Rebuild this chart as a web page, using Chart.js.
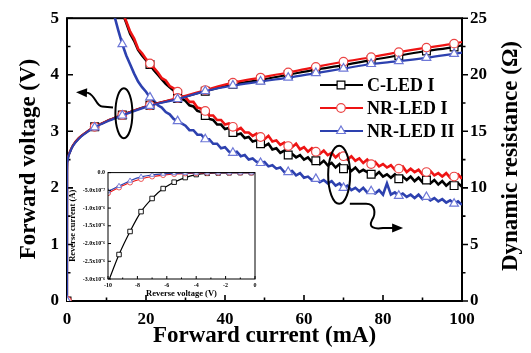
<!DOCTYPE html>
<html>
<head>
<meta charset="utf-8">
<script src="https://cdn.jsdelivr.net/npm/chart.js@4.4.0/dist/chart.umd.min.js"></script>
<style>
  html, body { margin: 0; padding: 0; background: #fff; }
  #wrap { position: relative; width: 531px; height: 353px; }
  #main { position: absolute; left: 0; top: 0; }
  #inset { position: absolute; left: 62px; top: 166px; }
</style>
</head>
<body>
<div id="wrap">
  <canvas id="main" width="531" height="353"></canvas>
  <canvas id="inset" width="200" height="134"></canvas>
</div>
<script>
// ---- forward voltage (left axis, V) vs forward current (mA)
const vCurrent = [0, 0.02, 0.1, 0.3, 0.7, 1.5, 3, 5, 7, 10, 14, 17.5, 21, 28, 35, 42, 49, 56, 63, 70, 77, 84, 91, 98, 100];
const vRed   = [0, 2.3, 2.47, 2.55, 2.63, 2.75, 2.88, 2.99, 3.08, 3.18, 3.29, 3.38, 3.46, 3.59, 3.73, 3.86, 3.95, 4.04, 4.14, 4.23, 4.31, 4.40, 4.48, 4.55, 4.58];
const vBlack = [0, 2.3, 2.47, 2.55, 2.63, 2.75, 2.88, 2.99, 3.08, 3.18, 3.29, 3.38, 3.46, 3.58, 3.71, 3.83, 3.91, 4.00, 4.09, 4.17, 4.26, 4.34, 4.42, 4.49, 4.52];
const vBlue  = [0, 2.3, 2.46, 2.54, 2.62, 2.74, 2.87, 2.98, 3.07, 3.17, 3.28, 3.37, 3.45, 3.57, 3.71, 3.81, 3.88, 3.95, 4.03, 4.11, 4.19, 4.24, 4.30, 4.37, 4.39];

// ---- dynamic resistance (right axis, ohm), sampled every 1 mA from the start current
const rRedStart = 13;
const rRed = [26.8,25.6,24.7,23.8,23.2,22.3,21.9,21.4,21.0,20.6,
  20.2,19.7,19.5,19.0,18.8,18.5,18.1,18.0,17.6,17.6,
  17.1,17.0,16.8,16.4,16.4,16.0,16.0,15.6,15.7,15.4,
  15.1,15.3,14.9,14.9,14.6,14.8,14.5,14.3,14.6,14.1,
  14.2,13.8,14.0,13.7,13.6,13.9,13.4,13.6,13.2,13.5,
  13.2,13.0,13.3,12.9,13.1,12.7,13.0,12.8,12.5,12.8,
  12.4,12.6,12.2,12.5,12.1,12.3,11.9,12.1,11.8,12.0,
  11.6,11.7,11.9,11.4,11.7,11.4,11.6,11.2,11.4,11.5,
  11.1,11.3,11.0,11.3,10.9,11.0,11.2,10.8];
const rBlackStart = 13;
const rBlack = [26.9,25.5,24.6,23.6,23.0,22.2,21.7,21.3,20.9,20.4,
  20.0,19.6,19.2,18.9,18.6,18.3,17.9,17.7,17.3,17.2,
  16.8,16.7,16.4,16.1,16.0,15.6,15.6,15.2,15.3,14.9,
  14.7,14.8,14.4,14.5,14.1,14.2,13.9,13.7,13.9,13.4,
  13.5,13.1,13.3,12.9,13.0,12.7,12.9,12.5,12.7,12.3,
  12.4,12.1,12.4,12.0,12.2,11.8,12.1,11.7,11.9,11.5,
  11.8,11.4,11.6,11.4,11.2,11.1,11.4,11.0,11.2,10.9,
  11.2,10.8,11.0,10.7,11.0,10.6,10.9,10.5,10.7,10.4,
  10.7,10.3,10.6,10.2,10.5,10.2,10.4,10.1];
const rBlueStart = 10;
const rBlue = [29.0,27.0,25.2,23.9,22.7,21.7,20.9,20.1,19.4,18.9,
  18.5,18.0,17.7,17.3,17.1,16.7,16.5,16.1,15.9,15.7,
  15.5,15.1,15.1,14.7,14.7,14.3,14.3,13.9,13.9,13.5,
  13.6,13.2,13.1,13.2,12.8,12.9,12.5,12.6,12.3,12.2,
  12.3,11.9,12.0,11.7,11.8,11.4,11.4,11.5,11.1,11.3,
  10.9,11.0,10.7,10.8,10.5,10.7,10.4,10.6,10.2,10.4,
  10.0,10.2,9.8,10.0,9.7,10.0,9.6,9.7,9.5,9.8,
  9.4,10.4,9.4,9.6,9.3,9.5,9.2,9.4,9.1,9.4,
  9.0,9.2,8.9,9.1,8.8,9.0,8.7,8.9,8.6,8.8,
  8.5];

// currents where the symbols sit
const markerCurrents = [0, 7, 14, 21, 28, 35, 42, 49, 56, 63, 70, 77, 84, 91, 98];

// ---- inset: reverse current (in 1e-6 A) vs reverse voltage
const insetVoltage = [-10, -9.25, -8.5, -7.75, -7, -6.25, -5.5, -4.75, -4, -3.25, -2.5, -1.75, -1, -0.25, 0];
const insetBlack = [-3.1, -2.31, -1.66, -1.10, -0.73, -0.45, -0.27, -0.14, -0.055, -0.02, -0.01, -0.005, 0, 0, 0];
const insetRed   = [-0.58, -0.42, -0.28, -0.18, -0.11, -0.07, -0.04, -0.025, -0.015, -0.008, -0.004, -0.002, 0, 0, 0];
const insetBlue  = [-0.53, -0.38, -0.23, -0.12, -0.065, -0.035, -0.02, -0.01, -0.005, 0, 0, 0, 0, 0, 0];
const insetYTicks = [-3, -2.5, -2, -1.5, -1, -0.5, 0];
const insetYLabels = ['-3.0x10⁻⁶', '-2.5x10⁻⁶', '-2.0x10⁻⁶', '-1.5x10⁻⁶', '-1.0x10⁻⁶', '-5.0x10⁻⁷', '0.0'];

const legendNames = ['C-LED I', 'NR-LED I', 'NR-LED II'];

// ---- annotation shapes, in data units of x (mA) and left y (V)
const ellipseLeft = [14.4, 3.32];
const ellipseRight = [68.9, 2.23];
const arrowLeft = [[11.65, 3.42], [8.86, 3.44], [7.34, 3.44], [7.34, 3.63], [5.32, 3.68], [2.28, 3.69]];
const arrowRight = [[71.6, 1.72], [75.7, 1.72], [78.2, 1.72], [78.2, 1.53], [77.2, 1.43], [76.2, 1.29], [78.0, 1.27], [80.0, 1.29], [85.1, 1.29]];

const RED = 'rgb(238,20,20)', BLACK = '#000', BLUE = 'rgb(45,65,175)';
const RED_MK = 'rgb(235,70,70)', BLUE_MK = 'rgb(110,120,215)';
const SERIF = '"Liberation Serif", "Times New Roman", serif';

function pts(xs, ys) { return xs.map((x, i) => ({x: x, y: ys[i]})); }
function stepPts(start, ys) { return ys.map((y, i) => ({x: start + i, y: y})); }
function markerRadius(r, ymax) {
  return c => {
    const p = c.raw;
    if (!p) return 0;
    return markerCurrents.includes(p.x) && p.y <= ymax ? r : 0;
  };
}

function series(data, axis, color, mkColor, style, r, order, smooth) {
  return {
    data: data, yAxisID: axis, order: order,
    borderColor: color, borderWidth: smooth ? 2.2 : 2.6,
    cubicInterpolationMode: smooth ? 'monotone' : 'default',
    tension: 0, fill: false,
    pointStyle: style, pointRadius: markerRadius(r, axis === 'y' ? 5 : 25),
    pointBackgroundColor: '#fff', pointBorderColor: mkColor, pointBorderWidth: 1.2
  };
}

function drawMarker(ctx, style, x, y, r, color) {
  ctx.save();
  ctx.fillStyle = '#fff'; ctx.strokeStyle = color; ctx.lineWidth = 1.2;
  ctx.beginPath();
  if (style === 'circle') ctx.arc(x, y, r, 0, Math.PI * 2);
  else if (style === 'rect') { const s = r * Math.SQRT1_2; ctx.rect(x - s, y - s, 2 * s, 2 * s); }
  else { ctx.moveTo(x, y - r); ctx.lineTo(x + r * 0.866, y + r * 0.5); ctx.lineTo(x - r * 0.866, y + r * 0.5); ctx.closePath(); }
  ctx.fill(); ctx.stroke();
  ctx.restore();
}

function arrowHead(ctx, tip, from, len, half) {
  const a = Math.atan2(tip[1] - from[1], tip[0] - from[0]);
  ctx.beginPath();
  ctx.moveTo(tip[0], tip[1]);
  ctx.lineTo(tip[0] - len * Math.cos(a) + half * Math.sin(a), tip[1] - len * Math.sin(a) - half * Math.cos(a));
  ctx.lineTo(tip[0] - len * Math.cos(a) - half * Math.sin(a), tip[1] - len * Math.sin(a) + half * Math.cos(a));
  ctx.closePath();
  ctx.fill();
}

const mainDecor = {
  id: 'mainDecor',
  beforeDatasetsDraw(chart) {
    // frame and tick marks sit under the curves
    const {ctx, chartArea: a, scales} = chart;
    const x = scales.x, y = scales.y, y2 = scales.y2;
    ctx.save();
    ctx.strokeStyle = '#000';
    ctx.lineWidth = 2;
    ctx.strokeRect(a.left, a.top, a.right - a.left, a.bottom - a.top);
    ctx.lineWidth = 1.6;
    ctx.beginPath();
    for (let v = 0; v <= 100; v += 10) {
      const px = x.getPixelForValue(v), len = v % 20 ? 3.5 : 6;
      ctx.moveTo(px, a.bottom); ctx.lineTo(px, a.bottom - len);
    }
    for (let v = 0; v <= 5; v += 0.5) {
      const py = y.getPixelForValue(v), len = v % 1 ? 3.5 : 6;
      ctx.moveTo(a.left, py); ctx.lineTo(a.left + len, py);
    }
    for (let v = 0; v <= 25; v += 2.5) {
      const py = y2.getPixelForValue(v), len = v % 5 ? 3.5 : 6;
      ctx.moveTo(a.right, py); ctx.lineTo(a.right + len, py);
    }
    ctx.stroke();
    ctx.restore();
  },
  afterDraw(chart) {
    const {ctx, chartArea: a, scales} = chart;
    const x = scales.x, y = scales.y;
    const P = p => [x.getPixelForValue(p[0]), y.getPixelForValue(p[1])];
    ctx.save();
    ctx.fillStyle = '#000';

    // axis titles
    ctx.font = 'bold 23px ' + SERIF;
    ctx.textAlign = 'center'; ctx.textBaseline = 'alphabetic';
    ctx.fillText('Forward current (mA)', (a.left + a.right) / 2, 342);
    ctx.save(); ctx.translate(35, 159); ctx.rotate(-Math.PI / 2);
    ctx.fillText('Forward voltage (V)', 0, 0); ctx.restore();
    ctx.save(); ctx.translate(517, 156); ctx.rotate(-Math.PI / 2);
    ctx.fillText('Dynamic resistance (Ω)', 0, 0); ctx.restore();

    // legend
    const lc = [BLACK, RED, BLUE], mc = [BLACK, RED_MK, BLUE_MK], ms = ['rect', 'circle', 'triangle'], mr = [5.5, 4.3, 5];
    ctx.font = 'bold 18px ' + SERIF;
    ctx.textAlign = 'left'; ctx.textBaseline = 'middle';
    legendNames.forEach((name, i) => {
      const ly = 85 + i * 23;
      ctx.strokeStyle = lc[i]; ctx.lineWidth = 2.2;
      ctx.beginPath(); ctx.moveTo(320, ly); ctx.lineTo(363, ly); ctx.stroke();
      drawMarker(ctx, ms[i], 341, ly, mr[i], mc[i]);
      ctx.fillStyle = '#000';
      ctx.fillText(name, 367, ly + 1);
    });

    // ellipses and arrows
    ctx.strokeStyle = '#000'; ctx.fillStyle = '#000'; ctx.lineWidth = 2;
    let c = P(ellipseLeft);
    ctx.beginPath(); ctx.ellipse(c[0], c[1], 8.5, 25, 0, 0, Math.PI * 2); ctx.stroke();
    c = P(ellipseRight);
    ctx.beginPath(); ctx.ellipse(c[0], c[1], 11, 29, 0, 0, Math.PI * 2); ctx.stroke();

    let q = arrowLeft.map(P);
    ctx.beginPath();
    ctx.moveTo(q[0][0], q[0][1]); ctx.lineTo(q[1][0], q[1][1]);
    ctx.bezierCurveTo(q[2][0], q[2][1], q[3][0], q[3][1], q[4][0], q[4][1]);
    ctx.lineTo(q[5][0] + 6, q[5][1]);
    ctx.stroke();
    arrowHead(ctx, q[5], q[4], 11, 4.5);

    q = arrowRight.map(P);
    ctx.beginPath();
    ctx.moveTo(q[0][0], q[0][1]); ctx.lineTo(q[1][0], q[1][1]);
    ctx.bezierCurveTo(q[2][0], q[2][1], q[3][0], q[3][1], q[4][0], q[4][1]);
    ctx.bezierCurveTo(q[5][0], q[5][1], q[6][0], q[6][1], q[7][0], q[7][1]);
    ctx.lineTo(q[8][0] - 6, q[8][1]);
    ctx.stroke();
    arrowHead(ctx, q[8], q[7], 11, 4.5);
    ctx.restore();
  }
};

const tickFont = {family: SERIF, size: 17, weight: 'bold'};

new Chart(document.getElementById('main'), {
  type: 'line',
  data: {
    datasets: [
      series(stepPts(rBlackStart, rBlack), 'y2', BLACK, BLACK, 'rect', 5.5, 6, false),
      series(stepPts(rRedStart, rRed), 'y2', RED, RED_MK, 'circle', 4.3, 5, false),
      series(stepPts(rBlueStart, rBlue), 'y2', BLUE, BLUE_MK, 'triangle', 5, 4, false),
      series(pts(vCurrent, vBlack), 'y', BLACK, BLACK, 'rect', 5.5, 3, true),
      series(pts(vCurrent, vRed), 'y', RED, RED_MK, 'circle', 4.3, 2, true),
      series(pts(vCurrent, vBlue), 'y', BLUE, BLUE_MK, 'triangle', 5, 1, true)
    ]
  },
  options: {
    responsive: false,
    animation: false,
    events: [],
    layout: {padding: {top: 10, left: 0, right: 0, bottom: 0}},
    plugins: {legend: {display: false}, tooltip: {enabled: false}},
    scales: {
      x: {
        type: 'linear', min: 0, max: 100,
        ticks: {stepSize: 20, font: tickFont, color: '#000', padding: 8, maxRotation: 0},
        grid: {display: false, drawTicks: false}, border: {display: false},
        afterFit: s => { s.height = 52; }
      },
      y: {
        type: 'linear', position: 'left', min: 0, max: 5,
        ticks: {stepSize: 1, font: tickFont, color: '#000', padding: 8},
        grid: {display: false, drawTicks: false}, border: {display: false},
        afterFit: s => { s.width = 67; }
      },
      y2: {
        type: 'linear', position: 'right', min: 0, max: 25,
        ticks: {stepSize: 5, font: tickFont, color: '#000', padding: 8},
        grid: {display: false, drawTicks: false}, border: {display: false},
        afterFit: s => { s.width = 69; }
      }
    }
  },
  plugins: [mainDecor]
});

// ---- inset chart
const insetDecor = {
  id: 'insetDecor',
  beforeDatasetsDraw(chart) {
    const {ctx, chartArea: a} = chart;
    ctx.save(); ctx.fillStyle = '#fff';
    ctx.fillRect(a.left, a.top, a.right - a.left, a.bottom - a.top);
    ctx.restore();
  },
  afterDraw(chart) {
    const {ctx, chartArea: a, scales} = chart;
    ctx.save();
    ctx.strokeStyle = '#000'; ctx.fillStyle = '#000'; ctx.lineWidth = 1;
    ctx.strokeRect(a.left, a.top, a.right - a.left, a.bottom - a.top);
    ctx.beginPath();
    for (let v = -10; v <= 0; v += 1) {
      const px = scales.x.getPixelForValue(v), len = v % 2 ? 1.5 : 3;
      ctx.moveTo(px, a.bottom); ctx.lineTo(px, a.bottom - len);
    }
    insetYTicks.forEach(v => {
      const py = scales.y.getPixelForValue(v);
      ctx.moveTo(a.left, py); ctx.lineTo(a.left + 3, py);
    });
    ctx.stroke();
    ctx.font = 'bold 8.5px ' + SERIF;
    ctx.textAlign = 'center'; ctx.textBaseline = 'alphabetic';
    ctx.fillText('Reverse voltage (V)', (a.left + a.right) / 2, 130);
    ctx.save(); ctx.translate(13, (a.top + a.bottom) / 2); ctx.rotate(-Math.PI / 2);
    ctx.fillText('Reverse current (A)', 0, 0); ctx.restore();
    ctx.restore();
  }
};

function insetSeries(ys, color, mkColor, style, r, order) {
  return {
    data: pts(insetVoltage, ys), order: order,
    borderColor: color, borderWidth: 1.2, fill: false, tension: 0,
    cubicInterpolationMode: 'monotone',
    pointStyle: style,
    pointRadius: c => (c.dataIndex < insetVoltage.length - 1 && c.raw && c.raw.y >= -3 ? r : 0),
    pointBackgroundColor: '#fff', pointBorderColor: mkColor, pointBorderWidth: 0.9
  };
}

const insetTickFont = {family: SERIF, size: 6, weight: 'bold'};

new Chart(document.getElementById('inset'), {
  type: 'line',
  data: {
    datasets: [
      insetSeries(insetBlack, BLACK, BLACK, 'rect', 3.2, 3),
      insetSeries(insetRed, RED, RED_MK, 'circle', 2.5, 2),
      insetSeries(insetBlue, BLUE, BLUE_MK, 'triangle', 2.8, 1)
    ]
  },
  options: {
    responsive: false,
    animation: false,
    events: [],
    layout: {padding: {top: 5, right: 7, left: 0, bottom: 0}},
    plugins: {legend: {display: false}, tooltip: {enabled: false}},
    scales: {
      x: {
        type: 'linear', min: -10, max: 0,
        ticks: {stepSize: 2, font: insetTickFont, color: '#000', padding: 3, maxRotation: 0},
        grid: {display: false, drawTicks: false}, border: {display: false},
        afterFit: s => { s.height = 21; }
      },
      y: {
        type: 'linear', min: -3, max: 0,
        afterBuildTicks: s => { s.ticks = insetYTicks.map(v => ({value: v})); },
        ticks: {font: insetTickFont, color: '#000', padding: 3,
          callback: v => insetYLabels[insetYTicks.indexOf(v)]},
        grid: {display: false, drawTicks: false}, border: {display: false},
        afterFit: s => { s.width = 46; }
      }
    }
  },
  plugins: [insetDecor]
});
</script>
</body>
</html>
